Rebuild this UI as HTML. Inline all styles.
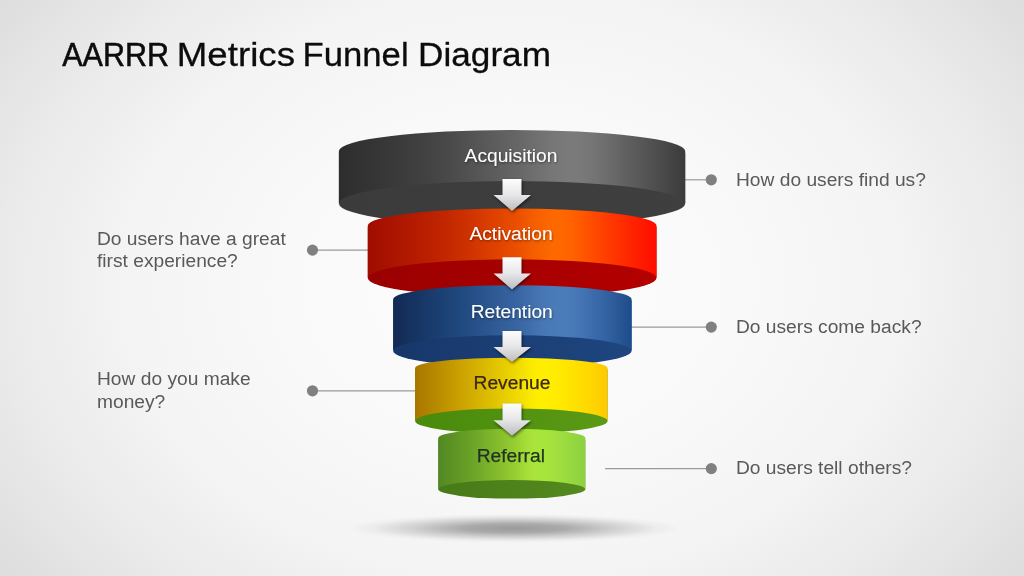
<!DOCTYPE html>
<html lang="en"><head><meta charset="utf-8"><title>AARRR Metrics Funnel Diagram</title>
<style>
html,body{margin:0;padding:0;background:#f4f4f4;}
body{width:1024px;height:576px;overflow:hidden;}
svg{display:block}
text{font-family:"Liberation Sans",Arial,sans-serif;}
</style></head><body>
<svg width="1024" height="576" viewBox="0 0 1024 576">
<defs>
<radialGradient id="bg" gradientUnits="userSpaceOnUse" cx="512" cy="285" r="640" gradientTransform="translate(512 285) scale(1 0.75) translate(-512 -285)">
<stop offset="0" stop-color="#fcfcfc"/><stop offset="0.35" stop-color="#f9f9f9"/><stop offset="0.6" stop-color="#f4f4f4"/><stop offset="0.8" stop-color="#eaeaea"/><stop offset="1" stop-color="#dddddd"/>
</radialGradient>
<linearGradient id="arr" x1="0" y1="0" x2="0" y2="1"><stop offset="0" stop-color="#fdfdfd"/><stop offset="0.5" stop-color="#e7e7e9"/><stop offset="1" stop-color="#bcbcbe"/></linearGradient>
<radialGradient id="shd"><stop offset="0" stop-color="#000" stop-opacity="0.37"/><stop offset="0.3" stop-color="#000" stop-opacity="0.31"/><stop offset="0.6" stop-color="#000" stop-opacity="0.15"/><stop offset="0.85" stop-color="#000" stop-opacity="0.035"/><stop offset="1" stop-color="#000" stop-opacity="0"/></radialGradient>
<filter id="blur" x="-20%" y="-100%" width="140%" height="300%"><feGaussianBlur stdDeviation="9 3.5"/></filter>
<filter id="ash" x="-30%" y="-30%" width="160%" height="160%"><feGaussianBlur stdDeviation="1.6"/></filter>
<filter id="tsh" x="-10%" y="-30%" width="120%" height="170%"><feDropShadow dx="0.6" dy="1.2" stdDeviation="0.8" flood-color="#000" flood-opacity="0.45"/></filter>

<linearGradient id="g1w" gradientUnits="userSpaceOnUse" x1="338.9" y1="0" x2="685.2" y2="0"><stop offset="0.0" stop-color="#2d2d2d"/><stop offset="0.035" stop-color="#303030"/><stop offset="0.07" stop-color="#333333"/><stop offset="0.105" stop-color="#353535"/><stop offset="0.14" stop-color="#383838"/><stop offset="0.175" stop-color="#3b3b3b"/><stop offset="0.21" stop-color="#3e3e3e"/><stop offset="0.245" stop-color="#414141"/><stop offset="0.28" stop-color="#454545"/><stop offset="0.3075" stop-color="#484848"/><stop offset="0.335" stop-color="#4c4c4c"/><stop offset="0.3625" stop-color="#505050"/><stop offset="0.39" stop-color="#545454"/><stop offset="0.4175" stop-color="#585858"/><stop offset="0.445" stop-color="#5c5c5c"/><stop offset="0.4725" stop-color="#606060"/><stop offset="0.5" stop-color="#646464"/><stop offset="0.5225" stop-color="#676767"/><stop offset="0.545" stop-color="#6b6b6b"/><stop offset="0.5675" stop-color="#6f6f6f"/><stop offset="0.59" stop-color="#727272"/><stop offset="0.6125" stop-color="#767676"/><stop offset="0.635" stop-color="#787878"/><stop offset="0.6575" stop-color="#7a7a7a"/><stop offset="0.68" stop-color="#7a7a7a"/><stop offset="0.7013" stop-color="#797979"/><stop offset="0.7225" stop-color="#767676"/><stop offset="0.7438" stop-color="#737373"/><stop offset="0.765" stop-color="#6f6f6f"/><stop offset="0.7863" stop-color="#6a6a6a"/><stop offset="0.8075" stop-color="#656565"/><stop offset="0.8287" stop-color="#606060"/><stop offset="0.85" stop-color="#5c5c5c"/><stop offset="0.8688" stop-color="#585858"/><stop offset="0.8875" stop-color="#545454"/><stop offset="0.9062" stop-color="#505050"/><stop offset="0.925" stop-color="#4c4c4c"/><stop offset="0.9437" stop-color="#484848"/><stop offset="0.9625" stop-color="#434343"/><stop offset="0.9812" stop-color="#3f3f3f"/><stop offset="1" stop-color="#3b3b3b"/></linearGradient>
<linearGradient id="g1b" gradientUnits="userSpaceOnUse" x1="338.9" y1="0" x2="685.2" y2="0"><stop offset="0" stop-color="#3b3b3b"/><stop offset="1" stop-color="#3f3f3f"/></linearGradient>
<linearGradient id="g2w" gradientUnits="userSpaceOnUse" x1="367.8" y1="0" x2="656.5" y2="0"><stop offset="0.0" stop-color="#a00c00"/><stop offset="0.035" stop-color="#a40f00"/><stop offset="0.07" stop-color="#a91300"/><stop offset="0.105" stop-color="#ad1600"/><stop offset="0.14" stop-color="#b11900"/><stop offset="0.175" stop-color="#b61c00"/><stop offset="0.21" stop-color="#ba2000"/><stop offset="0.245" stop-color="#bf2400"/><stop offset="0.28" stop-color="#c42800"/><stop offset="0.3075" stop-color="#c82c00"/><stop offset="0.335" stop-color="#cc3000"/><stop offset="0.3625" stop-color="#d13400"/><stop offset="0.39" stop-color="#d63900"/><stop offset="0.4175" stop-color="#da3e00"/><stop offset="0.445" stop-color="#df4200"/><stop offset="0.4725" stop-color="#e44700"/><stop offset="0.5" stop-color="#e84c00"/><stop offset="0.52" stop-color="#eb5000"/><stop offset="0.54" stop-color="#ef5500"/><stop offset="0.56" stop-color="#f25a00"/><stop offset="0.58" stop-color="#f55f00"/><stop offset="0.6" stop-color="#f86300"/><stop offset="0.62" stop-color="#fb6600"/><stop offset="0.64" stop-color="#fd6800"/><stop offset="0.66" stop-color="#ff6800"/><stop offset="0.6838" stop-color="#ff6500"/><stop offset="0.7075" stop-color="#ff6100"/><stop offset="0.7312" stop-color="#ff5b00"/><stop offset="0.755" stop-color="#ff5400"/><stop offset="0.7788" stop-color="#ff4c00"/><stop offset="0.8025" stop-color="#ff4400"/><stop offset="0.8262" stop-color="#ff3d00"/><stop offset="0.85" stop-color="#ff3600"/><stop offset="0.8688" stop-color="#ff3100"/><stop offset="0.8875" stop-color="#ff2c00"/><stop offset="0.9062" stop-color="#ff2600"/><stop offset="0.925" stop-color="#ff2100"/><stop offset="0.9437" stop-color="#ff1c00"/><stop offset="0.9625" stop-color="#ff1700"/><stop offset="0.9812" stop-color="#ff1100"/><stop offset="1" stop-color="#ff0c00"/></linearGradient>
<linearGradient id="g2b" gradientUnits="userSpaceOnUse" x1="367.8" y1="0" x2="656.5" y2="0"><stop offset="0" stop-color="#9a0000"/><stop offset="1" stop-color="#b40000"/></linearGradient>
<linearGradient id="g3w" gradientUnits="userSpaceOnUse" x1="393.2" y1="0" x2="631.6" y2="0"><stop offset="0.0" stop-color="#122a54"/><stop offset="0.0312" stop-color="#132d59"/><stop offset="0.0625" stop-color="#15315e"/><stop offset="0.0938" stop-color="#163462"/><stop offset="0.125" stop-color="#173767"/><stop offset="0.1562" stop-color="#193b6c"/><stop offset="0.1875" stop-color="#1a3e71"/><stop offset="0.2188" stop-color="#1c4175"/><stop offset="0.25" stop-color="#1e457a"/><stop offset="0.2812" stop-color="#20497f"/><stop offset="0.3125" stop-color="#234c83"/><stop offset="0.3438" stop-color="#265088"/><stop offset="0.375" stop-color="#29548d"/><stop offset="0.4062" stop-color="#2c5891"/><stop offset="0.4375" stop-color="#305b96"/><stop offset="0.4688" stop-color="#335f9b"/><stop offset="0.5" stop-color="#36639f"/><stop offset="0.525" stop-color="#3966a3"/><stop offset="0.55" stop-color="#3c6aa7"/><stop offset="0.575" stop-color="#3f6eab"/><stop offset="0.6" stop-color="#4372af"/><stop offset="0.625" stop-color="#4676b3"/><stop offset="0.65" stop-color="#4879b6"/><stop offset="0.675" stop-color="#4a7bb9"/><stop offset="0.7" stop-color="#4b7cba"/><stop offset="0.72" stop-color="#4b7cba"/><stop offset="0.74" stop-color="#4a7ab9"/><stop offset="0.76" stop-color="#4878b7"/><stop offset="0.78" stop-color="#4575b5"/><stop offset="0.8" stop-color="#4272b2"/><stop offset="0.82" stop-color="#3f6faf"/><stop offset="0.84" stop-color="#3c6bab"/><stop offset="0.86" stop-color="#3968a8"/><stop offset="0.8775" stop-color="#3665a5"/><stop offset="0.895" stop-color="#3362a2"/><stop offset="0.9125" stop-color="#305e9e"/><stop offset="0.93" stop-color="#2c5b9a"/><stop offset="0.9475" stop-color="#295796"/><stop offset="0.965" stop-color="#255392"/><stop offset="0.9825" stop-color="#21508e"/><stop offset="1" stop-color="#1e4c8a"/></linearGradient>
<linearGradient id="g3b" gradientUnits="userSpaceOnUse" x1="393.2" y1="0" x2="631.6" y2="0"><stop offset="0" stop-color="#17376a"/><stop offset="1" stop-color="#1f4680"/></linearGradient>
<linearGradient id="g4w" gradientUnits="userSpaceOnUse" x1="415.1" y1="0" x2="607.6" y2="0"><stop offset="0.0" stop-color="#a87600"/><stop offset="0.0312" stop-color="#ad7c00"/><stop offset="0.0625" stop-color="#b18100"/><stop offset="0.0938" stop-color="#b68700"/><stop offset="0.125" stop-color="#ba8d00"/><stop offset="0.1562" stop-color="#bf9300"/><stop offset="0.1875" stop-color="#c39800"/><stop offset="0.2188" stop-color="#c89e00"/><stop offset="0.25" stop-color="#cca400"/><stop offset="0.2812" stop-color="#d0aa00"/><stop offset="0.3125" stop-color="#d4b000"/><stop offset="0.3438" stop-color="#d8b600"/><stop offset="0.375" stop-color="#dcbc00"/><stop offset="0.4062" stop-color="#e0c200"/><stop offset="0.4375" stop-color="#e4c800"/><stop offset="0.4688" stop-color="#e8ce00"/><stop offset="0.5" stop-color="#ecd400"/><stop offset="0.5188" stop-color="#efd800"/><stop offset="0.5375" stop-color="#f1dc00"/><stop offset="0.5563" stop-color="#f4e000"/><stop offset="0.575" stop-color="#f7e400"/><stop offset="0.5938" stop-color="#f9e800"/><stop offset="0.6125" stop-color="#fceb00"/><stop offset="0.6313" stop-color="#feed00"/><stop offset="0.65" stop-color="#ffee00"/><stop offset="0.675" stop-color="#ffee00"/><stop offset="0.7" stop-color="#ffed00"/><stop offset="0.725" stop-color="#ffec00"/><stop offset="0.75" stop-color="#ffe900"/><stop offset="0.775" stop-color="#ffe700"/><stop offset="0.8" stop-color="#ffe400"/><stop offset="0.825" stop-color="#ffe100"/><stop offset="0.85" stop-color="#ffde00"/><stop offset="0.8688" stop-color="#ffdc00"/><stop offset="0.8875" stop-color="#ffd900"/><stop offset="0.9062" stop-color="#ffd700"/><stop offset="0.925" stop-color="#ffd400"/><stop offset="0.9437" stop-color="#ffd100"/><stop offset="0.9625" stop-color="#ffce00"/><stop offset="0.9812" stop-color="#ffcb00"/><stop offset="1" stop-color="#ffc800"/></linearGradient>
<linearGradient id="g4b" gradientUnits="userSpaceOnUse" x1="415.1" y1="0" x2="607.6" y2="0"><stop offset="0" stop-color="#4a8a0c"/><stop offset="1" stop-color="#5a9a14"/></linearGradient>
<linearGradient id="g5w" gradientUnits="userSpaceOnUse" x1="438.3" y1="0" x2="585.3" y2="0"><stop offset="0.0" stop-color="#528722"/><stop offset="0.0312" stop-color="#558b23"/><stop offset="0.0625" stop-color="#598f23"/><stop offset="0.0938" stop-color="#5c9224"/><stop offset="0.125" stop-color="#5f9625"/><stop offset="0.1562" stop-color="#639a26"/><stop offset="0.1875" stop-color="#669e26"/><stop offset="0.2188" stop-color="#6aa227"/><stop offset="0.25" stop-color="#6ea628"/><stop offset="0.2812" stop-color="#72aa29"/><stop offset="0.3125" stop-color="#77af2a"/><stop offset="0.3438" stop-color="#7cb32b"/><stop offset="0.375" stop-color="#81b72b"/><stop offset="0.4062" stop-color="#85bc2c"/><stop offset="0.4375" stop-color="#8ac02d"/><stop offset="0.4688" stop-color="#8fc52f"/><stop offset="0.5" stop-color="#94ca30"/><stop offset="0.5188" stop-color="#97cd31"/><stop offset="0.5375" stop-color="#9ad132"/><stop offset="0.5563" stop-color="#9ed534"/><stop offset="0.575" stop-color="#a1d935"/><stop offset="0.5938" stop-color="#a4dd37"/><stop offset="0.6125" stop-color="#a6e038"/><stop offset="0.6313" stop-color="#a8e239"/><stop offset="0.65" stop-color="#a9e43a"/><stop offset="0.675" stop-color="#a9e53b"/><stop offset="0.7" stop-color="#a8e53c"/><stop offset="0.725" stop-color="#a7e43c"/><stop offset="0.75" stop-color="#a5e33d"/><stop offset="0.775" stop-color="#a3e13d"/><stop offset="0.8" stop-color="#a1df3d"/><stop offset="0.825" stop-color="#9ede3e"/><stop offset="0.85" stop-color="#9cdc3e"/><stop offset="0.8688" stop-color="#9adb3e"/><stop offset="0.8875" stop-color="#99d93f"/><stop offset="0.9062" stop-color="#97d83f"/><stop offset="0.925" stop-color="#94d63f"/><stop offset="0.9437" stop-color="#92d53f"/><stop offset="0.9625" stop-color="#90d340"/><stop offset="0.9812" stop-color="#8ed240"/><stop offset="1" stop-color="#8cd040"/></linearGradient>
<linearGradient id="g5b" gradientUnits="userSpaceOnUse" x1="438.3" y1="0" x2="585.3" y2="0"><stop offset="0" stop-color="#477a18"/><stop offset="1" stop-color="#548a1e"/></linearGradient>
</defs>
<rect width="1024" height="576" fill="url(#bg)"/>
<ellipse cx="514" cy="528.3" rx="168" ry="14.5" fill="url(#shd)"/>
<line x1="685" y1="179.8" x2="711.3" y2="179.8" stroke="#9a9a9a" stroke-width="1.2"/>
<line x1="312.5" y1="250.1" x2="368" y2="250.1" stroke="#9a9a9a" stroke-width="1.2"/>
<line x1="631" y1="327.1" x2="711.3" y2="327.1" stroke="#9a9a9a" stroke-width="1.2"/>
<line x1="312.5" y1="390.8" x2="415.5" y2="390.8" stroke="#9a9a9a" stroke-width="1.2"/>
<line x1="605" y1="468.6" x2="711.3" y2="468.6" stroke="#9a9a9a" stroke-width="1.2"/>
<circle cx="711.3" cy="179.8" r="5.6" fill="#808080"/>
<circle cx="312.5" cy="250.1" r="5.6" fill="#808080"/>
<circle cx="711.3" cy="327.1" r="5.6" fill="#808080"/>
<circle cx="312.5" cy="390.8" r="5.6" fill="#808080"/>
<circle cx="711.3" cy="468.6" r="5.6" fill="#808080"/>
<path d="M338.9 153 A173.15000000000003 21 0 0 1 685.2 153 L685.2 203.5 A173.15000000000003 22.5 0 0 1 338.9 203.5 Z" fill="url(#g1b)"/>
<path d="M338.9 151 A173.15000000000003 21 0 0 1 685.2 151 L685.2 203.5 A173.15000000000003 22.5 0 0 0 338.9 203.5 Z" fill="url(#g1w)"/>
<path d="M367.8 227.5 A144.35 17 0 0 1 656.5 227.5 L656.5 278 A144.35 18.7 0 0 1 367.8 278 Z" fill="url(#g2b)"/>
<path d="M367.8 225.5 A144.35 17 0 0 1 656.5 225.5 L656.5 278 A144.35 18.7 0 0 0 367.8 278 Z" fill="url(#g2w)"/>
<path d="M393.2 301.2 A119.20000000000002 14 0 0 1 631.6 301.2 L631.6 351 A119.20000000000002 15.8 0 0 1 393.2 351 Z" fill="url(#g3b)"/>
<path d="M393.2 299.2 A119.20000000000002 14 0 0 1 631.6 299.2 L631.6 351 A119.20000000000002 15.8 0 0 0 393.2 351 Z" fill="url(#g3w)"/>
<path d="M415.1 370 A96.25 10.3 0 0 1 607.6 370 L607.6 421 A96.25 12.6 0 0 1 415.1 421 Z" fill="url(#g4b)"/>
<path d="M415.1 368 A96.25 10.3 0 0 1 607.6 368 L607.6 421 A96.25 12.6 0 0 0 415.1 421 Z" fill="url(#g4w)"/>
<path d="M438.3 440 A73.49999999999997 9.2 0 0 1 585.3 440 L585.3 489.3 A73.49999999999997 9.3 0 0 1 438.3 489.3 Z" fill="url(#g5b)"/>
<path d="M438.3 438 A73.49999999999997 9.2 0 0 1 585.3 438 L585.3 489.3 A73.49999999999997 9.3 0 0 0 438.3 489.3 Z" fill="url(#g5w)"/>
<polygon points="502.5,179 521.5,179 521.5,195 531,195 512,211 493.5,195 502.5,195" fill="#000" opacity="0.55" filter="url(#ash)" transform="translate(0.8 1.6)"/>
<polygon points="502.5,179 521.5,179 521.5,195 531,195 512,211 493.5,195 502.5,195" fill="url(#arr)"/>
<polygon points="502.5,257.3 521.5,257.3 521.5,273.6 531,273.6 512,289.5 493.5,273.6 502.5,273.6" fill="#000" opacity="0.55" filter="url(#ash)" transform="translate(0.8 1.6)"/>
<polygon points="502.5,257.3 521.5,257.3 521.5,273.6 531,273.6 512,289.5 493.5,273.6 502.5,273.6" fill="url(#arr)"/>
<polygon points="502.5,331 521.5,331 521.5,347 531,347 512,362 493.5,347 502.5,347" fill="#000" opacity="0.55" filter="url(#ash)" transform="translate(0.8 1.6)"/>
<polygon points="502.5,331 521.5,331 521.5,347 531,347 512,362 493.5,347 502.5,347" fill="url(#arr)"/>
<polygon points="502.5,403.5 521.5,403.5 521.5,420.2 531,420.2 512,435.8 493.5,420.2 502.5,420.2" fill="#000" opacity="0.55" filter="url(#ash)" transform="translate(0.8 1.6)"/>
<polygon points="502.5,403.5 521.5,403.5 521.5,420.2 531,420.2 512,435.8 493.5,420.2 502.5,420.2" fill="url(#arr)"/>
<g opacity="0.999">
<text x="511" y="161.8" font-size="19.2" text-anchor="middle" fill="#ffffff" filter="url(#tsh)">Acquisition</text>
<text x="511" y="239.7" font-size="19.2" text-anchor="middle" fill="#ffffff" filter="url(#tsh)">Activation</text>
<text x="511.7" y="317.5" font-size="19.2" text-anchor="middle" fill="#ffffff" filter="url(#tsh)">Retention</text>
<text x="512" y="389.2" font-size="19.2" text-anchor="middle" fill="#3a2818" stroke="#3a2818" stroke-width="0.25">Revenue</text>
<text x="510.8" y="462.2" font-size="19.2" text-anchor="middle" fill="#1f3424" stroke="#1f3424" stroke-width="0.25">Referral</text>
<text x="736" y="185.6" font-size="19.2" fill="#595959">How do users find us?</text>
<text x="736" y="332.5" font-size="19.2" fill="#595959">Do users come back?</text>
<text x="736" y="474.3" font-size="19.2" fill="#595959">Do users tell others?</text>
<text x="97" y="244.8" font-size="19.2" fill="#595959">Do users have a great</text>
<text x="97" y="267.3" font-size="19.2" fill="#595959">first experience?</text>
<text x="97" y="384.8" font-size="19.2" fill="#595959">How do you make</text>
<text x="97" y="407.5" font-size="19.2" fill="#595959">money?</text>
<text transform="translate(62.2 65.6) scale(0.898 1)" font-size="34" fill="#0c0c0c" stroke="#0c0c0c" stroke-width="0.55">AARRR</text>
<text transform="translate(176.8 65.6) scale(1.079 1)" font-size="34" fill="#0c0c0c" stroke="#0c0c0c" stroke-width="0.3">Metrics</text>
<text transform="translate(302.6 65.6) scale(1.02 1)" font-size="34" fill="#0c0c0c" stroke="#0c0c0c" stroke-width="0.3">Funnel</text>
<text transform="translate(418.1 65.6) scale(1.034 1)" font-size="34" fill="#0c0c0c" stroke="#0c0c0c" stroke-width="0.3">Diagram</text>
</g>
</svg></body></html>
